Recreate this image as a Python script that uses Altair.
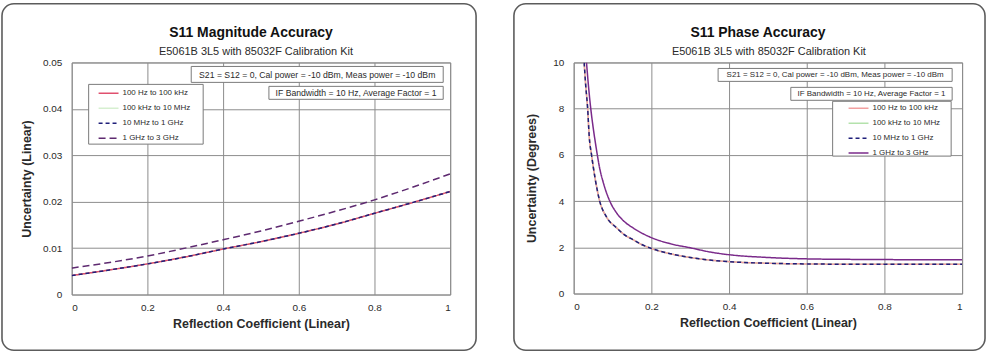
import altair as alt
import pandas as pd

# ---------------- data ----------------
SERIES = ["100 Hz to 100 kHz", "100 kHz to 10 MHz", "10 MHz to 1 GHz", "1 GHz to 3 GHz"]
DRAW_ORDER = ["100 kHz to 10 MHz", "100 Hz to 100 kHz", "10 MHz to 1 GHz", "1 GHz to 3 GHz"]

MAG_X = [0.0, 0.1, 0.2, 0.3, 0.4, 0.5, 0.6, 0.7, 0.8, 0.9, 1.0]
MAG_LOW = [0.0041, 0.0053, 0.0066, 0.0081, 0.0098, 0.0114, 0.0132, 0.0152, 0.0175, 0.0198, 0.0222]
MAG_HIGH = [0.0057, 0.0069, 0.0083, 0.0100, 0.0118, 0.0137, 0.0158, 0.0180, 0.0204, 0.0231, 0.0260]

PH_LOW_X = [0.027, 0.031, 0.036, 0.040, 0.046, 0.055, 0.067, 0.085, 0.11, 0.13, 0.153, 0.175,
            0.2, 0.25, 0.3, 0.35, 0.4, 0.5, 0.6, 0.7, 0.8, 0.9, 1.0]
PH_LOW = [10.0, 9.0, 8.0, 6.8, 6.0, 5.0, 4.0, 3.3, 2.85, 2.55, 2.33, 2.12,
          1.95, 1.72, 1.56, 1.45, 1.38, 1.31, 1.28, 1.27, 1.27, 1.27, 1.27]
PH_HIGH_X = [0.033, 0.038, 0.044, 0.050, 0.058, 0.066, 0.078, 0.093, 0.11, 0.13, 0.153, 0.175,
             0.2, 0.25, 0.3, 0.35, 0.4, 0.5, 0.6, 0.7, 0.8, 0.9, 1.0]
PH_HIGH = [10.0, 9.0, 8.0, 7.2, 6.3, 5.5, 4.7, 4.0, 3.5, 3.12, 2.84, 2.62,
           2.42, 2.15, 1.98, 1.8, 1.68, 1.56, 1.5, 1.48, 1.47, 1.46, 1.46]

X_TICKS = [0, 0.2, 0.4, 0.6, 0.8, 1]
MAG_TICKS = [0, 0.01, 0.02, 0.03, 0.04, 0.05]
PH_TICKS = [0, 2, 4, 6, 8, 10]

MAG_TITLE = "S11 Magnitude Accuracy"
PH_TITLE = "S11 Phase Accuracy"
SUBTITLE = "E5061B 3L5 with 85032F Calibration Kit"
NOTE_1 = "S21 = S12 = 0, Cal power = -10 dBm, Meas power = -10 dBm"
NOTE_2 = "IF Bandwidth = 10 Hz, Average Factor = 1"

# ---------------- styling ----------------
FONT = "Liberation Sans"
GRID = "#8c8c8c"
TXT = "#2a2a2a"


def build_df(xs_low, ys_low, xs_high, ys_high):
    rows = []
    for s in DRAW_ORDER:
        if s == SERIES[3]:
            xs, ys = xs_high, ys_high
        else:
            xs, ys = xs_low, ys_low
        for x, y in zip(xs, ys):
            rows.append({"series": s, "x": x, "y": y})
    return pd.DataFrame(rows)


one = pd.DataFrame({"k": [0]})


def label(text, cx, cy, size, weight="normal", color=TXT):
    return alt.Chart(one).mark_text(text=text, font=FONT, fontSize=size, fontWeight=weight,
                                    color=color, align="center", baseline="middle").encode(
        x=alt.value(cx), y=alt.value(cy))


def rect(x0, x1, y0, y1):
    return alt.Chart(one).mark_rect(fill="white", stroke="#7a7a7a", strokeWidth=1).encode(
        x=alt.value(x0), x2=alt.value(x1), y=alt.value(y0), y2=alt.value(y1))


def box(x0, x1, y0, y1, text, size):
    return [rect(x0, x1, y0, y1), label(text, (x0 + x1) / 2, (y0 + y1) / 2 + 0.5, size)]


def panel(df, title, ytitle, ydomain, yticks, w, h, colors, dashes, legend_box, lx, ly,
          frame_box, note1_box, note2_box, note_size, title_pad, title_x, sub_x):
    legend = alt.Legend(title=None, orient="none", legendX=lx, legendY=ly,
                        direction="vertical", padding=0, symbolType="stroke",
                        symbolSize=400, symbolStrokeWidth=1.5, labelFont=FONT,
                        labelFontSize=8, labelColor=TXT, labelOffset=3, rowPadding=-8)
    lines = alt.Chart(df).mark_line(strokeWidth=1.5, clip=True, interpolate="monotone").encode(
        x=alt.X("x:Q", scale=alt.Scale(domain=[0, 1], nice=False),
                axis=alt.Axis(values=X_TICKS, format="~r",
                              title="Reflection Coefficient (Linear)",
                              grid=True, gridColor=GRID, gridOpacity=1, domain=False,
                              ticks=False, labelFont=FONT, labelFontSize=10,
                              labelColor=TXT, labelPadding=8, titleFont=FONT,
                              titleFontSize=12.5, titleFontWeight="bold", titleColor=TXT,
                              titlePadding=5)),
        y=alt.Y("y:Q", scale=alt.Scale(domain=ydomain, nice=False, zero=True),
                axis=alt.Axis(values=yticks, format="~r", title=ytitle, grid=True,
                              gridColor=GRID, gridOpacity=1, domain=False, ticks=False,
                              labelFont=FONT, labelFontSize=10, labelColor=TXT,
                              labelPadding=10, titleFont=FONT, titleFontSize=12.5,
                              titleFontWeight="bold", titleColor=TXT,
                              titlePadding=title_pad)),
        color=alt.Color("series:N", scale=alt.Scale(domain=SERIES, range=colors), legend=legend),
        strokeDash=alt.StrokeDash("series:N", scale=alt.Scale(domain=SERIES, range=dashes),
                                  legend=legend),
    )
    fx0, fx1, fy0, fy1 = frame_box
    frame = alt.Chart(one).mark_rect(fillOpacity=0, stroke="#5c5c5c", strokeWidth=1.6,
                                     cornerRadius=12).encode(
        x=alt.value(fx0), x2=alt.value(fx1), y=alt.value(fy0), y2=alt.value(fy1))
    layers = ([frame, lines, rect(*legend_box)] + box(*note1_box, NOTE_1, note_size)
              + box(*note2_box, NOTE_2, note_size)
              + [label(title, title_x, -30, 14, "bold", "#111111"),
                 label(SUBTITLE, sub_x, -10, 11)])
    return alt.layer(*layers).properties(width=w, height=h)


mag_df = build_df(MAG_X, MAG_LOW, MAG_X, MAG_HIGH)
ph_df = build_df(PH_LOW_X, PH_LOW, PH_HIGH_X, PH_HIGH)

left = panel(mag_df, MAG_TITLE, "Uncertainty (Linear)", [0, 0.05], MAG_TICKS,
             380, 233,
             ["#e0506e", "#d6efd0", "#1f1f7a", "#5e2a70"],
             [[1, 0], [1, 0], [4, 3], [7, 4]],
             (17, 132, 22, 82), 26, 20,
             (-70, 406, -59, 289), (120, 373, 4, 20), (198, 373, 24, 37), 8.7, 9, 180, 185)

right = panel(ph_df, PH_TITLE, "Uncertainty (Degrees)", [0, 10], PH_TICKS,
              390, 232,
              ["#f2a0a0", "#b4e2ac", "#1f1f7a", "#7a2a8a"],
              [[1, 0], [1, 0], [4, 3], [1, 0]],
              (260, 379, 39, 94), 275, 35,
              (-60, 413, -59, 289), (145, 380, 6, 19), (218, 380, 25, 38), 8.0, 14, 185, 196)

chart = alt.hconcat(left, right, spacing=34, bounds="full",
                    padding={"left": 0, "top": 1, "right": 2, "bottom": 2}
                    ).resolve_scale(color="independent", strokeDash="independent"
                    ).configure(background="white", font=FONT
                    ).configure_view(stroke=GRID, strokeWidth=1)

chart.save("out.html", embed_options={"renderer": "svg", "actions": False})
